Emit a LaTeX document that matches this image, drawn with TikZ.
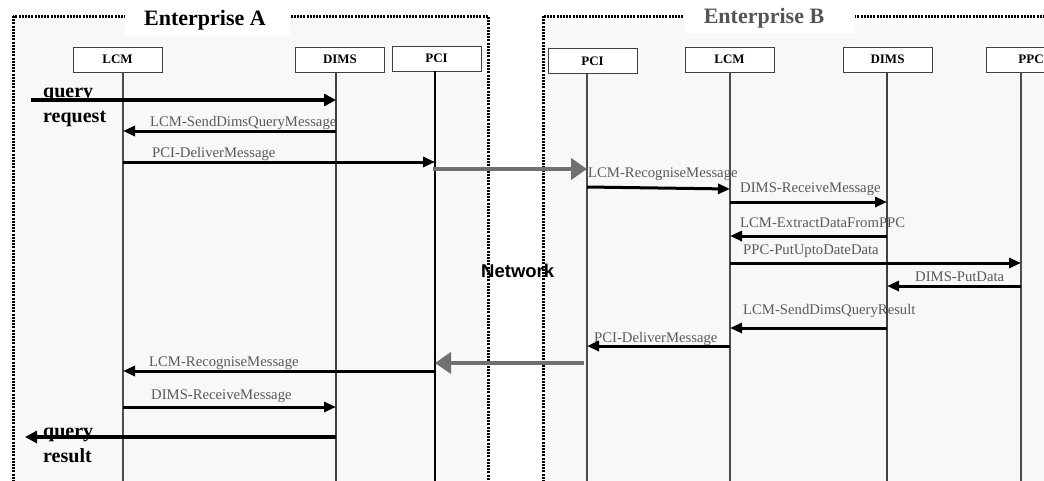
\documentclass[tikz,border=0pt]{standalone}
\usepackage{fontspec}
\setmainfont{Liberation Serif}
\newfontfamily\netfont{Liberation Sans}
\usetikzlibrary{arrows.meta}
\definecolor{lbl}{HTML}{5A5A5A}
\definecolor{netgray}{HTML}{707070}
\definecolor{bgfill}{HTML}{F8F8F8}
\definecolor{ttlB}{HTML}{555555}
\begin{document}
\begin{tikzpicture}[x=1pt,y=-1pt,
  encl/.style={draw=black, line width=3pt, dash pattern=on 2pt off 1.2pt, fill=bgfill},
  head/.style={draw=black!75, fill=white, line width=0.9pt, minimum width=89pt, minimum height=25pt, inner sep=0pt, font=\fontsize{13}{15}\selectfont\bfseries},
  life/.style={draw=black!70, line width=1.1pt},
  lifeth/.style={draw=black!75, line width=2pt},
  msg/.style={draw=black, line width=3pt, -{Triangle[length=12pt,width=10pt]}},
  big/.style={draw=black, line width=4pt, -{Triangle[length=12pt,width=12pt]}},
  net/.style={draw=netgray, line width=4pt, -{Triangle[length=16pt,width=21pt]}},
  lab/.style={text=lbl, inner sep=0pt, font=\fontsize{14.7}{16}\selectfont, anchor=base west},
  ttl/.style={inner sep=0pt, font=\fontsize{22}{24}\selectfont\bfseries, anchor=base},
  qlab/.style={inner sep=0pt, font=\fontsize{20}{25}\selectfont\bfseries, align=left, anchor=base west},
]
\useasboundingbox (0,0) rectangle (1044,480);
\clip (0,0) rectangle (1044,480);

% enclosures
\draw[encl] (13,16) rectangle (488,500);
\draw[encl] (543,16) rectangle (1070,500);
\fill[white] (125,0) rectangle (290,35);
\fill[white] (685,0) rectangle (855,33);
\node[ttl] (titleA) at (205,25) {Enterprise A};
\node[ttl, text=ttlB] (titleB) at (764,23) {Enterprise B};

% lifeline x positions
\coordinate (aLCMl) at (123,0);
\coordinate (aDIMSl) at (336,0);
\coordinate (aPCIl) at (435,0);
\coordinate (bPCIl) at (587,0);
\coordinate (bLCMl) at (730,0);
\coordinate (bDIMSl) at (887,0);
\coordinate (bPPCl) at (1021,0);

% heads
\node[head] (aLCM) at (117.5,59.5) {LCM};
\node[head] (aDIMS) at (340,59.5) {DIMS};
\node[head] (aPCI) at (436.5,58.5) {PCI};
\node[head] (bPCI) at (592.5,60.8) {PCI};
\node[head] (bLCM) at (729.5,59.5) {LCM};
\node[head] (bDIMS) at (887.5,59.5) {DIMS};
\node[head] (bPPC) at (1031,59.5) {PPC};

% lifelines
\draw[life] (aLCMl |- aLCM.south) -- (aLCMl |- 0,490);
\draw[lifeth] (aDIMSl |- aDIMS.south) -- (aDIMSl |- 0,490);
\draw[life, draw=black] (aPCIl |- aPCI.south) -- (aPCIl |- 0,490);
\draw[life] (bPCIl |- bPCI.south) -- (bPCIl |- 0,490);
\draw[life] (bLCMl |- bLCM.south) -- (bLCMl |- 0,490);
\draw[lifeth] (bDIMSl |- bDIMS.south) -- (bDIMSl |- 0,490);
\draw[life] (bPPCl |- bPPC.south) -- (bPPCl |- 0,490);

% labels
\node[qlab] (qreq) at (43,122) {query\\request};
\node[qlab] (qres) at (43,462) {query\\result};
\node[lab] (l2) at (150,126) {LCM-SendDimsQueryMessage};
\node[lab] (l3) at (152,157) {PCI-DeliverMessage};
\node[lab] (l5) at (588,177) {LCM-RecogniseMessage};
\node[lab] (l6) at (740,192) {DIMS-ReceiveMessage};
\node[lab] (l7) at (740,227) {LCM-ExtractDataFromPPC};
\node[lab] (l8) at (743,254) {PPC-PutUptoDateData};
\node[lab] (l9) at (915,281) {DIMS-PutData};
\node[lab] (l10) at (743,314) {LCM-SendDimsQueryResult};
\node[lab] (l11) at (594,342) {PCI-DeliverMessage};
\node[lab] (l13) at (149,366) {LCM-RecogniseMessage};
\node[lab] (l14) at (151,399) {DIMS-ReceiveMessage};
\node[inner sep=0pt, anchor=base west, font=\netfont\fontsize{18.5}{20}\selectfont\bfseries] (net) at (481,277) {Network};

% messages
\coordinate (qin) at (31,100);
\coordinate (qout) at (25,437);
\coordinate (n1s) at (433,169);
\coordinate (n2s) at (584,363);
\draw[big] (qin) -- (aDIMSl |- qin);
\draw[msg] (aDIMSl |- 0,131) -- (aLCMl |- 0,131);
\draw[msg] (aLCMl |- 0,162) -- (aPCIl |- 0,162);
\draw[net] (n1s) -- (bPCIl |- n1s);
\draw[msg] (bPCIl |- 0,187) -- (bLCMl |- 0,189);
\draw[msg] (bLCMl |- 0,202) -- (bDIMSl |- 0,202);
\draw[msg] (bDIMSl |- 0,236) -- (bLCMl |- 0,236);
\draw[msg] (bLCMl |- 0,263) -- (bPPCl |- 0,263);
\draw[msg] (bPPCl |- 0,286) -- (bDIMSl |- 0,286);
\draw[msg] (bDIMSl |- 0,328) -- (bLCMl |- 0,328);
\draw[msg] (bLCMl |- 0,346) -- (bPCIl |- 0,346);
\draw[net] (n2s) -- (aPCIl |- n2s);
\draw[msg] (aPCIl |- 0,371) -- (aLCMl |- 0,371);
\draw[msg] (aLCMl |- 0,407) -- (aDIMSl |- 0,407);
\draw[big] (aDIMSl |- qout) -- (qout);
\end{tikzpicture}
\end{document}
